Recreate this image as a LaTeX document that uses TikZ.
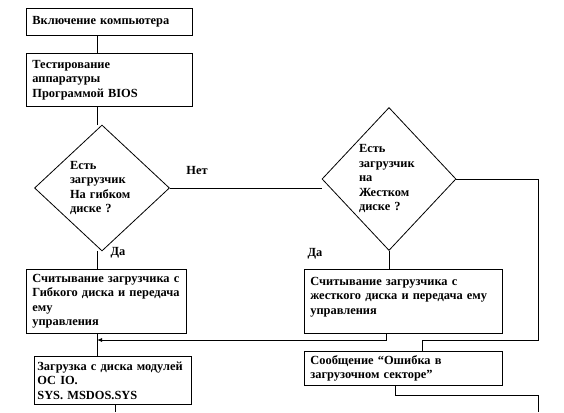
\documentclass[tikz,border=0pt]{standalone}
\usepackage{fontspec}
\setmainfont{Liberation Serif}
\usetikzlibrary{arrows.meta,shapes.geometric,calc}
\newcommand{\shrift}{\bfseries\fontsize{12.4}{14.5}\selectfont}
\tikzset{
  blok/.style={draw,anchor=north west,align=left,inner xsep=6pt,inner ysep=2pt,font=\shrift},
  romb/.style={draw,diamond,inner sep=0pt,align=left,font=\shrift},
  metka/.style={font=\shrift}
}

\begin{document}
\begin{tikzpicture}[x=1pt,y=-1pt,line width=0.8pt]
    \useasboundingbox[fill=white] (0,0) rectangle (564,412);
    \coordinate (spine) at (97,0);
    % boxes
    \node[blok,text width=154pt,minimum height=27pt] (vkl) at (26,8) {Включение компьютера};
    \node[blok,text width=154pt,minimum height=53pt] (test) at (26,53) {Тестирование\\аппаратуры\\Программой BIOS};
    \node[romb,text width=64pt,minimum width=135pt,minimum height=126pt] (gibkij) at (102,188) {Есть\\загрузчик\\На гибком\\диске ?};
    \node[romb,text width=60pt,minimum width=134pt,minimum height=143pt] (zhestkij) at (389,179) {Есть\\загрузчик\\на\\Жестком\\диске ?};
    \node[blok,text width=148pt,minimum height=64pt] (chtg) at (26,269) {Считывание загрузчика с\\Гибкого диска и передача\\ему\\управления};
    \node[blok,text width=186pt,minimum height=64pt] (chtzh) at (304,269) {Считывание загрузчика с\\жесткого диска и передача ему\\управления\rule[-12pt]{0pt}{12pt}};
    \node[blok,text width=186pt,minimum height=34pt] (oshibka) at (304,351) {Сообщение “Ошибка в\\загрузочном секторе”};
    \node[blok,inner xsep=3pt,text width=151pt,minimum height=48pt] (zagruzka) at (34,356) {Загрузка с диска модулей\\ОС IO.\\SYS. MSDOS.SYS};
    % labels
    \node[metka] (net) at (197,170) {Нет};
    \node[metka] (da1) at (118,253) {Да};
    \node[metka] (da2) at (315,254) {Да};
    % connectors
    \draw (vkl.south -| spine) -- (test.north -| spine);
    \draw (test.south -| spine) -- (gibkij.north -| spine);
    \draw (gibkij.east) -- (gibkij.east -| zhestkij.west);
    \draw (gibkij.south -| spine) -- (chtg.north -| spine);
    \draw (zhestkij.south) -- (zhestkij.south |- chtzh.north);
    \coordinate (rail) at (538,340);
    \draw (zhestkij.east) -| (rail) -| ([xshift=19pt]oshibka.north);
    \coordinate (sliyanie) at (97,340);
    \draw[-{Latex[length=5pt,width=4pt]}] ([xshift=-17pt]chtzh.south) |- (sliyanie);
    \draw (chtg.south -| spine) -- (zagruzka.north -| spine);
    \coordinate (vyhod1) at (115,412);
    \draw (zagruzka.south -| vyhod1) -- (vyhod1);
    \coordinate (povorot) at (538,395);
    \coordinate (vyhod2) at (538,412);
    \draw ([xshift=-8pt]oshibka.south) |- (povorot) -- (vyhod2);
\end{tikzpicture}
\end{document}
